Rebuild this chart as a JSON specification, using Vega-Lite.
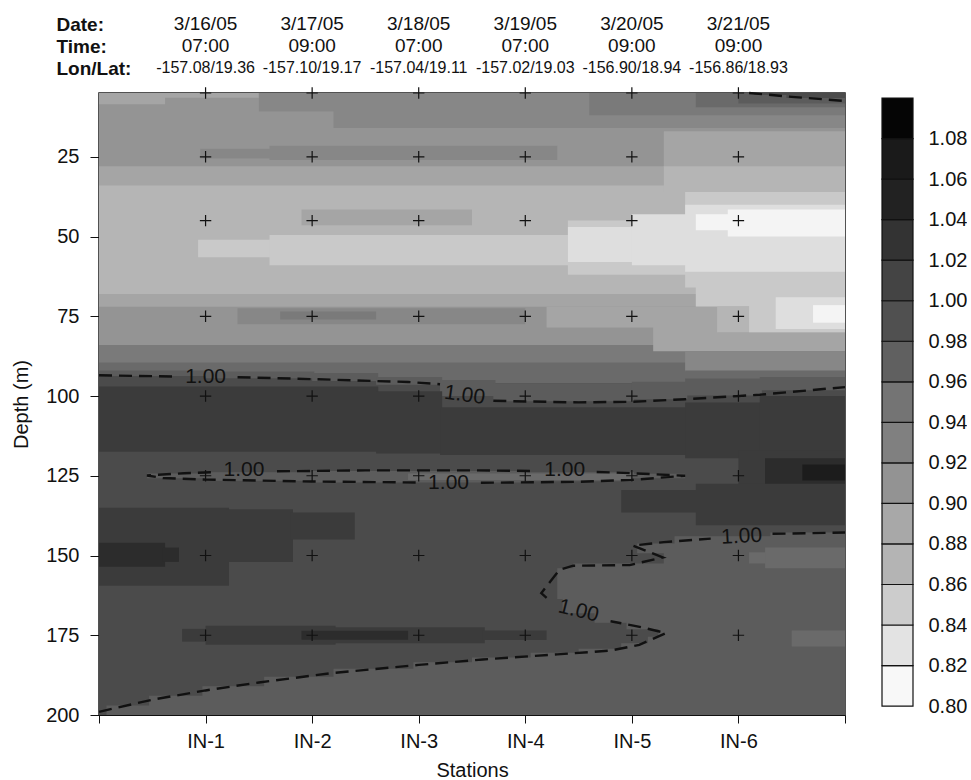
{
  "$schema": "https://vega.github.io/schema/vega-lite/v6.json",
  "padding": {"left": 10, "top": 13, "right": 0, "bottom": 0},
  "config": {
    "font": "Liberation Sans",
    "view": {"stroke": null},
    "axis": {"labelColor": "#111", "titleColor": "#111", "domainColor": "#111", "tickColor": "#111", "grid": false, "labelFont": "Liberation Sans", "titleFont": "Liberation Sans"}
  },
  "datasets": {
    "header": [
      {"x": 1, "row": "Date:", "text": "3/16/05"}, {"x": 2, "row": "Date:", "text": "3/17/05"}, {"x": 3, "row": "Date:", "text": "3/18/05"},
      {"x": 4, "row": "Date:", "text": "3/19/05"}, {"x": 5, "row": "Date:", "text": "3/20/05"}, {"x": 6, "row": "Date:", "text": "3/21/05"},
      {"x": 1, "row": "Time:", "text": "07:00"}, {"x": 2, "row": "Time:", "text": "09:00"}, {"x": 3, "row": "Time:", "text": "07:00"},
      {"x": 4, "row": "Time:", "text": "07:00"}, {"x": 5, "row": "Time:", "text": "09:00"}, {"x": 6, "row": "Time:", "text": "09:00"},
      {"x": 1, "row": "Lon/Lat:", "text": "-157.08/19.36"}, {"x": 2, "row": "Lon/Lat:", "text": "-157.10/19.17"}, {"x": 3, "row": "Lon/Lat:", "text": "-157.04/19.11"},
      {"x": 4, "row": "Lon/Lat:", "text": "-157.02/19.03"}, {"x": 5, "row": "Lon/Lat:", "text": "-156.90/18.94"}, {"x": 6, "row": "Lon/Lat:", "text": "-156.86/18.93"}
    ],
    "fills": [
      {"x": 0, "xe": 7, "d": 5, "de": 92, "v": 0.91},
      {"x": 0, "xe": 7, "d": 28, "de": 92, "v": 0.89},
      {"x": 0, "xe": 7, "d": 34, "de": 92, "v": 0.87},
      {"x": 0, "xe": 7, "d": 68, "de": 92, "v": 0.89},
      {"x": 0, "xe": 7, "d": 72, "de": 92, "v": 0.91},
      {"x": 0, "xe": 7, "d": 84, "de": 92, "v": 0.95},
      {"x": 0, "xe": 7, "d": 92, "de": 200, "v": 1.01},
      {"x": 0, "xe": 7, "d": 89.5, "de": 93, "v": 0.97},
      {"x": 2.6, "xe": 7, "d": 92, "de": 96, "v": 0.97},
      {"x": 0, "xe": 0.62, "d": 5, "de": 8.5, "v": 0.89},
      {"x": 0.6, "xe": 1.5, "d": 5, "de": 6.5, "v": 0.89},
      {"x": 1.5, "xe": 7, "d": 5, "de": 10.8, "v": 0.93},
      {"x": 2.2, "xe": 7, "d": 10.5, "de": 16, "v": 0.93},
      {"x": 4.6, "xe": 7, "d": 5, "de": 12, "v": 0.95},
      {"x": 5.6, "xe": 7, "d": 5, "de": 9.5, "v": 0.97},
      {"x": 6.0, "xe": 7, "d": 5, "de": 8.3, "v": 0.99},
      {"x": 6.45, "xe": 7, "d": 5, "de": 6.6, "v": 1.01},
      {"x": 6.15, "xe": 6.47, "d": 5, "de": 5.6, "v": 1.01},
      {"x": 5.3, "xe": 7, "d": 17, "de": 28.5, "v": 0.89},
      {"x": 0.95, "xe": 1.62, "d": 22.5, "de": 25.5, "v": 0.93},
      {"x": 1.6, "xe": 4.3, "d": 21.5, "de": 26, "v": 0.93},
      {"x": 5.3, "xe": 7, "d": 28, "de": 36, "v": 0.87},
      {"x": 1.9, "xe": 3.5, "d": 41.5, "de": 46.5, "v": 0.89},
      {"x": 0.93, "xe": 1.62, "d": 51, "de": 56.5, "v": 0.85},
      {"x": 1.6, "xe": 4.42, "d": 49.5, "de": 59, "v": 0.85},
      {"x": 4.4, "xe": 7, "d": 45, "de": 62, "v": 0.85},
      {"x": 5.5, "xe": 7, "d": 36, "de": 66, "v": 0.85},
      {"x": 5.6, "xe": 7, "d": 65.5, "de": 72, "v": 0.85},
      {"x": 4.4, "xe": 5.02, "d": 47, "de": 58, "v": 0.83},
      {"x": 5.0, "xe": 5.52, "d": 43, "de": 59, "v": 0.83},
      {"x": 5.5, "xe": 7, "d": 40, "de": 61, "v": 0.83},
      {"x": 5.6, "xe": 5.92, "d": 43, "de": 48, "v": 0.81},
      {"x": 5.9, "xe": 7, "d": 41.5, "de": 50, "v": 0.81},
      {"x": 1.3, "xe": 4.0, "d": 72.5, "de": 77.5, "v": 0.93},
      {"x": 1.7, "xe": 2.6, "d": 73.5, "de": 76, "v": 0.95},
      {"x": 4.2, "xe": 5.22, "d": 72, "de": 78.5, "v": 0.89},
      {"x": 5.2, "xe": 7, "d": 72, "de": 86, "v": 0.89},
      {"x": 5.8, "xe": 7, "d": 72, "de": 80, "v": 0.87},
      {"x": 6.1, "xe": 7, "d": 67, "de": 80, "v": 0.85},
      {"x": 6.35, "xe": 7, "d": 69, "de": 79, "v": 0.83},
      {"x": 6.7, "xe": 7, "d": 71.5, "de": 77, "v": 0.81},
      {"x": 5.5, "xe": 7, "d": 86, "de": 92.3, "v": 0.93},
      {"x": 5.5, "xe": 7, "d": 92, "de": 95, "v": 0.97},
      {"x": 0, "xe": 1.02, "d": 92, "de": 93.7, "v": 0.99},
      {"x": 1, "xe": 2.02, "d": 92.3, "de": 94.4, "v": 0.99},
      {"x": 2, "xe": 2.62, "d": 92.8, "de": 95.3, "v": 0.99},
      {"x": 2.6, "xe": 3.22, "d": 94, "de": 96.5, "v": 0.99},
      {"x": 3.2, "xe": 3.72, "d": 95, "de": 100, "v": 0.99},
      {"x": 3.7, "xe": 5.02, "d": 96, "de": 101.6, "v": 0.99},
      {"x": 5.0, "xe": 5.52, "d": 95.5, "de": 101, "v": 0.99},
      {"x": 5.5, "xe": 6.22, "d": 94.5, "de": 99.8, "v": 0.99},
      {"x": 6.2, "xe": 7, "d": 94, "de": 98.2, "v": 0.99},
      {"x": 0, "xe": 2.62, "d": 97, "de": 117.5, "v": 1.03},
      {"x": 2.6, "xe": 3.22, "d": 98.5, "de": 118, "v": 1.03},
      {"x": 3.2, "xe": 5.52, "d": 103.5, "de": 118.5, "v": 1.03},
      {"x": 5.5, "xe": 6.22, "d": 102, "de": 119.5, "v": 1.03},
      {"x": 6.2, "xe": 7, "d": 100, "de": 120, "v": 1.03},
      {"x": 0.45, "xe": 1.02, "d": 124.3, "de": 125.8, "v": 0.99},
      {"x": 1, "xe": 2.02, "d": 123.9, "de": 126.6, "v": 0.99},
      {"x": 2, "xe": 4.02, "d": 123.5, "de": 127.1, "v": 0.99},
      {"x": 4, "xe": 5.02, "d": 123.9, "de": 126.7, "v": 0.99},
      {"x": 5, "xe": 5.5, "d": 124.4, "de": 125.8, "v": 0.99},
      {"x": 2.9, "xe": 5.0, "d": 124.3, "de": 126.3, "v": 0.97},
      {"x": 6.0, "xe": 7, "d": 117, "de": 131, "v": 1.03},
      {"x": 6.25, "xe": 7, "d": 119.5, "de": 129, "v": 1.05},
      {"x": 6.6, "xe": 7, "d": 121.5, "de": 126.5, "v": 1.07},
      {"x": 4.9, "xe": 5.62, "d": 129.5, "de": 136.5, "v": 1.03},
      {"x": 5.6, "xe": 7, "d": 127.5, "de": 140.5, "v": 1.03},
      {"x": 0, "xe": 1.22, "d": 135, "de": 159.5, "v": 1.03},
      {"x": 1.2, "xe": 1.82, "d": 135.5, "de": 152, "v": 1.03},
      {"x": 1.8, "xe": 2.4, "d": 136.5, "de": 145, "v": 1.03},
      {"x": 0, "xe": 0.62, "d": 146, "de": 153.5, "v": 1.05},
      {"x": 0.6, "xe": 0.75, "d": 147.5, "de": 152, "v": 1.05},
      {"x": 6.3, "xe": 7, "d": 142.8, "de": 144.6, "v": 0.99},
      {"x": 5.4, "xe": 7, "d": 144, "de": 146.8, "v": 0.99},
      {"x": 5.05, "xe": 7, "d": 146.2, "de": 149.3, "v": 0.99},
      {"x": 5.3, "xe": 7, "d": 149, "de": 153.1, "v": 0.99},
      {"x": 4.45, "xe": 7, "d": 152.5, "de": 154.6, "v": 0.99},
      {"x": 4.3, "xe": 7, "d": 154, "de": 163.6, "v": 0.99},
      {"x": 4.35, "xe": 7, "d": 163, "de": 168.1, "v": 0.99},
      {"x": 4.65, "xe": 7, "d": 167.5, "de": 171.1, "v": 0.99},
      {"x": 4.95, "xe": 7, "d": 170.5, "de": 173.1, "v": 0.99},
      {"x": 5.25, "xe": 7, "d": 172.5, "de": 176.1, "v": 0.99},
      {"x": 5.15, "xe": 7, "d": 175.5, "de": 178.1, "v": 0.99},
      {"x": 4.9, "xe": 7, "d": 177.5, "de": 179.8, "v": 0.99},
      {"x": 4.5, "xe": 7, "d": 179.2, "de": 181.1, "v": 0.99},
      {"x": 4.05, "xe": 7, "d": 180.5, "de": 182.6, "v": 0.99},
      {"x": 3.5, "xe": 7, "d": 182, "de": 184.1, "v": 0.99},
      {"x": 2.95, "xe": 7, "d": 183.5, "de": 186.1, "v": 0.99},
      {"x": 2.2, "xe": 7, "d": 185.5, "de": 188.6, "v": 0.99},
      {"x": 1.55, "xe": 7, "d": 188, "de": 191.6, "v": 0.99},
      {"x": 0.97, "xe": 7, "d": 191, "de": 194.6, "v": 0.99},
      {"x": 0.47, "xe": 7, "d": 194, "de": 197.6, "v": 0.99},
      {"x": 0.07, "xe": 7, "d": 197, "de": 200, "v": 0.99},
      {"x": 6.1, "xe": 6.27, "d": 149, "de": 152.5, "v": 0.97},
      {"x": 6.25, "xe": 7, "d": 147.5, "de": 154, "v": 0.97},
      {"x": 6.5, "xe": 7, "d": 173.5, "de": 178.5, "v": 0.97},
      {"x": 0.78, "xe": 1.02, "d": 173, "de": 177, "v": 1.03},
      {"x": 1.0, "xe": 2.22, "d": 172, "de": 178, "v": 1.03},
      {"x": 2.2, "xe": 3.62, "d": 172.5, "de": 177.5, "v": 1.03},
      {"x": 3.6, "xe": 4.2, "d": 173.5, "de": 176.5, "v": 1.03},
      {"x": 1.9, "xe": 2.9, "d": 173.6, "de": 176.4, "v": 1.05}
    ],
    "contours": [
      {"seg": "A", "ord": 1, "x": 6.1, "d": 5}, {"seg": "A", "ord": 2, "x": 6.5, "d": 6.2}, {"seg": "A", "ord": 3, "x": 7, "d": 7.5},
      {"seg": "B1", "ord": 1, "x": 0, "d": 93.5}, {"seg": "B1", "ord": 2, "x": 0.72, "d": 93.9},
      {"seg": "B2", "ord": 1, "x": 1.3, "d": 94.1}, {"seg": "B2", "ord": 2, "x": 2, "d": 94.7}, {"seg": "B2", "ord": 3, "x": 2.9, "d": 95.6}, {"seg": "B2", "ord": 4, "x": 3.2, "d": 96.3},
      {"seg": "B3", "ord": 1, "x": 3.7, "d": 101.5}, {"seg": "B3", "ord": 2, "x": 4.5, "d": 102}, {"seg": "B3", "ord": 3, "x": 5, "d": 101.8}, {"seg": "B3", "ord": 4, "x": 5.5, "d": 101}, {"seg": "B3", "ord": 5, "x": 6.2, "d": 99.6}, {"seg": "B3", "ord": 6, "x": 7, "d": 97.2},
      {"seg": "C1", "ord": 1, "x": 1.05, "d": 123.9}, {"seg": "C1", "ord": 2, "x": 0.8, "d": 124.2}, {"seg": "C1", "ord": 3, "x": 0.45, "d": 124.9}, {"seg": "C1", "ord": 4, "x": 0.6, "d": 125.7}, {"seg": "C1", "ord": 5, "x": 1, "d": 126.2}, {"seg": "C1", "ord": 6, "x": 2, "d": 126.8}, {"seg": "C1", "ord": 7, "x": 2.98, "d": 127.1},
      {"seg": "C2", "ord": 1, "x": 1.67, "d": 123.6}, {"seg": "C2", "ord": 2, "x": 2.5, "d": 123.3}, {"seg": "C2", "ord": 3, "x": 3.5, "d": 123.3}, {"seg": "C2", "ord": 4, "x": 4.08, "d": 123.5},
      {"seg": "C3", "ord": 1, "x": 4.67, "d": 123.8}, {"seg": "C3", "ord": 2, "x": 5.0, "d": 124.2}, {"seg": "C3", "ord": 3, "x": 5.5, "d": 125}, {"seg": "C3", "ord": 4, "x": 5.0, "d": 126.3}, {"seg": "C3", "ord": 5, "x": 4.5, "d": 126.9}, {"seg": "C3", "ord": 6, "x": 3.58, "d": 127.2},
      {"seg": "D1", "ord": 1, "x": 0, "d": 199}, {"seg": "D1", "ord": 2, "x": 0.5, "d": 195.2}, {"seg": "D1", "ord": 3, "x": 1, "d": 192.3}, {"seg": "D1", "ord": 4, "x": 1.5, "d": 189.8}, {"seg": "D1", "ord": 5, "x": 2.2, "d": 186.8}, {"seg": "D1", "ord": 6, "x": 3, "d": 184.3}, {"seg": "D1", "ord": 7, "x": 3.6, "d": 182.6}, {"seg": "D1", "ord": 8, "x": 4.3, "d": 181}, {"seg": "D1", "ord": 9, "x": 4.8, "d": 179.8}, {"seg": "D1", "ord": 10, "x": 5.07, "d": 178}, {"seg": "D1", "ord": 11, "x": 5.32, "d": 174.3}, {"seg": "D1", "ord": 12, "x": 5.05, "d": 172.2}, {"seg": "D1", "ord": 13, "x": 4.8, "d": 170.6},
      {"seg": "D2", "ord": 1, "x": 4.2, "d": 163.3}, {"seg": "D2", "ord": 2, "x": 4.15, "d": 161.8}, {"seg": "D2", "ord": 3, "x": 4.32, "d": 154.5}, {"seg": "D2", "ord": 4, "x": 4.45, "d": 153.2}, {"seg": "D2", "ord": 5, "x": 4.98, "d": 153}, {"seg": "D2", "ord": 6, "x": 5.29, "d": 150.6}, {"seg": "D2", "ord": 7, "x": 5.01, "d": 146.9}, {"seg": "D2", "ord": 8, "x": 5.3, "d": 145.8}, {"seg": "D2", "ord": 9, "x": 5.74, "d": 144.7},
      {"seg": "D3", "ord": 1, "x": 6.32, "d": 143.2}, {"seg": "D3", "ord": 2, "x": 7, "d": 142.8}
    ],
    "labels": [
      {"id": "L1", "x": 1.0, "d": 94, "text": "1.00"},
      {"id": "L2", "x": 3.43, "d": 99.8, "text": "1.00"},
      {"id": "L3", "x": 1.36, "d": 123.3, "text": "1.00"},
      {"id": "L4", "x": 3.28, "d": 127.3, "text": "1.00"},
      {"id": "L5", "x": 4.37, "d": 123.2, "text": "1.00"},
      {"id": "L6", "x": 4.5, "d": 167.4, "text": "1.00"},
      {"id": "L7", "x": 6.03, "d": 144.1, "text": "1.00"}
    ],
    "crosses": [
      {"x": 1, "d": 5}, {"x": 2, "d": 5}, {"x": 3, "d": 5}, {"x": 4, "d": 5}, {"x": 5, "d": 5}, {"x": 6, "d": 5},
      {"x": 1, "d": 25}, {"x": 2, "d": 25}, {"x": 3, "d": 25}, {"x": 4, "d": 25}, {"x": 5, "d": 25}, {"x": 6, "d": 25},
      {"x": 1, "d": 45}, {"x": 2, "d": 45}, {"x": 3, "d": 45}, {"x": 4, "d": 45}, {"x": 5, "d": 45}, {"x": 6, "d": 45},
      {"x": 1, "d": 75}, {"x": 2, "d": 75}, {"x": 3, "d": 75}, {"x": 4, "d": 75}, {"x": 5, "d": 75}, {"x": 6, "d": 75},
      {"x": 1, "d": 100}, {"x": 2, "d": 100}, {"x": 3, "d": 100}, {"x": 4, "d": 100}, {"x": 5, "d": 100}, {"x": 6, "d": 100},
      {"x": 1, "d": 125}, {"x": 2, "d": 125}, {"x": 3, "d": 125}, {"x": 4, "d": 125}, {"x": 5, "d": 125}, {"x": 6, "d": 125},
      {"x": 1, "d": 150}, {"x": 2, "d": 150}, {"x": 3, "d": 150}, {"x": 4, "d": 150}, {"x": 5, "d": 150}, {"x": 6, "d": 150},
      {"x": 1, "d": 175}, {"x": 2, "d": 175}, {"x": 3, "d": 175}, {"x": 4, "d": 175}, {"x": 5, "d": 175}, {"x": 6, "d": 175}
    ],
    "bar": [
      {"lo": 0.80, "hi": 0.82, "v": 0.81}, {"lo": 0.82, "hi": 0.84, "v": 0.83}, {"lo": 0.84, "hi": 0.86, "v": 0.85},
      {"lo": 0.86, "hi": 0.88, "v": 0.87}, {"lo": 0.88, "hi": 0.90, "v": 0.89}, {"lo": 0.90, "hi": 0.92, "v": 0.91},
      {"lo": 0.92, "hi": 0.94, "v": 0.93}, {"lo": 0.94, "hi": 0.96, "v": 0.95}, {"lo": 0.96, "hi": 0.98, "v": 0.97},
      {"lo": 0.98, "hi": 1.00, "v": 0.99}, {"lo": 1.00, "hi": 1.02, "v": 1.01}, {"lo": 1.02, "hi": 1.04, "v": 1.03},
      {"lo": 1.04, "hi": 1.06, "v": 1.05}, {"lo": 1.06, "hi": 1.08, "v": 1.07}, {"lo": 1.08, "hi": 1.10, "v": 1.09}
    ]
  },
  "bounds": "flush",
  "spacing": 14,
  "resolve": {"scale": {"x": "independent", "y": "independent", "color": "independent"}},
  "vconcat": [
    {
      "width": 746,
      "height": 66,
      "data": {"name": "header"},
      "mark": {"type": "text", "baseline": "middle", "align": "center", "color": "#111"},
      "encoding": {
        "x": {"field": "x", "type": "quantitative", "scale": {"domain": [0, 7], "nice": false, "zero": false}, "axis": null},
        "y": {"field": "row", "type": "nominal", "sort": ["Date:", "Time:", "Lon/Lat:"], "scale": {"type": "point", "padding": 0.5},
              "axis": {"title": null, "domain": false, "ticks": false, "tickSize": 0, "labelAlign": "left", "labelPadding": 43, "labelFontWeight": "bold", "labelFontSize": 19, "labelBaseline": "middle", "labelColor": "#111"}},
        "text": {"field": "text"},
        "size": {"condition": {"test": "datum.row === 'Lon/Lat:'", "value": 16}, "value": 19}
      }
    },
    {
      "bounds": "flush",
      "spacing": 37,
      "resolve": {"scale": {"x": "independent", "y": "independent", "color": "independent"}},
      "hconcat": [
        {
          "width": 746,
          "height": 622,
          "view": {"stroke": "#1a1a1a", "strokeWidth": 1.5},
          "encoding": {
            "x": {"field": "x", "type": "quantitative", "scale": {"domain": [0, 7], "nice": false, "zero": false},
                  "axis": {"values": [0, 1, 2, 3, 4, 5, 6, 7], "labelExpr": "datum.value >= 1 && datum.value <= 6 ? 'IN-' + datum.value : ''", "title": "Stations", "tickSize": 8, "labelPadding": 8, "labelFontSize": 20, "titleFontSize": 20, "titleFontWeight": "normal", "titlePadding": 9, "labelFlush": false, "labelOverlap": false}},
            "y": {"field": "d", "type": "quantitative", "scale": {"domain": [5, 200], "reverse": true, "nice": false, "zero": false},
                  "axis": {"values": [25, 50, 75, 100, 125, 150, 175, 200], "title": "Depth (m)", "tickSize": 9, "labelPadding": 11, "labelFontSize": 20, "titleFontSize": 20, "titleFontWeight": "normal", "titlePadding": 14, "labelFlush": false, "labelOverlap": false}}
          },
          "layer": [
            {
              "data": {"name": "fills"},
              "mark": {"type": "rect", "strokeWidth": 0},
              "encoding": {
                "x2": {"field": "xe"},
                "y2": {"field": "de"},
                "color": {"field": "v", "type": "quantitative", "legend": null,
                          "scale": {"type": "threshold", "domain": [0.82, 0.84, 0.86, 0.88, 0.90, 0.92, 0.94, 0.96, 0.98, 1.00, 1.02, 1.04, 1.06, 1.08],
                                    "range": ["#f4f4f4", "#dedede", "#c9c9c9", "#b5b5b5", "#a5a5a5", "#949494", "#878787", "#7a7a7a", "#6a6a6a", "#5c5c5c", "#4b4b4b", "#3b3b3b", "#2c2c2c", "#1c1c1c", "#0a0a0a"]}}
              }
            },
            {
              "data": {"name": "crosses"},
              "mark": {"type": "point", "shape": "M-1,0L1,0M0,-1L0,1", "size": 130, "filled": false, "stroke": "#111", "strokeWidth": 1.2, "opacity": 1}
            },
            {
              "data": {"name": "contours"},
              "mark": {"type": "line", "strokeDash": [13, 7], "strokeWidth": 2.4, "color": "#111"},
              "encoding": {"detail": {"field": "seg"}, "order": {"field": "ord"}}
            },
            {
              "data": {"name": "labels"},
              "mark": {"type": "text", "fontSize": 21, "color": "#111", "baseline": "middle", "align": "center"},
              "encoding": {
                "text": {"field": "text"},
                "angle": {"condition": [{"test": "datum.id === 'L2'", "value": 8}, {"test": "datum.id === 'L6'", "value": 14}, {"test": "datum.id === 'L7'", "value": -3}], "value": 0}
              }
            }
          ]
        },
        {
          "width": 31,
          "height": 622,
          "data": {"name": "bar"},
          "mark": {"type": "rect", "stroke": "#111", "strokeWidth": 1.2},
          "encoding": {
            "x": {"datum": 0, "type": "quantitative", "scale": {"domain": [0, 1], "nice": false, "zero": false}, "axis": null},
            "x2": {"datum": 1},
            "y": {"field": "lo", "type": "quantitative", "scale": {"domain": [0.7956, 1.1025], "nice": false, "zero": false},
                  "axis": {"orient": "right", "values": [0.80, 0.82, 0.84, 0.86, 0.88, 0.90, 0.92, 0.94, 0.96, 0.98, 1.00, 1.02, 1.04, 1.06, 1.08], "format": ".2f", "ticks": false, "domain": false, "labelPadding": 15, "labelFontSize": 20, "title": null, "labelBaseline": "middle", "labelOverlap": false, "labelFlush": false}},
            "y2": {"field": "hi"},
            "color": {"field": "v", "type": "quantitative", "legend": null,
                      "scale": {"type": "threshold", "domain": [0.82, 0.84, 0.86, 0.88, 0.90, 0.92, 0.94, 0.96, 0.98, 1.00, 1.02, 1.04, 1.06, 1.08],
                                "range": ["#f8f8f8", "#e3e3e3", "#cccccc", "#b4b4b4", "#a8a8a8", "#939393", "#808080", "#747474", "#606060", "#505050", "#444444", "#333333", "#222222", "#1a1a1a", "#050505"]}}
          }
        }
      ]
    }
  ]
}
